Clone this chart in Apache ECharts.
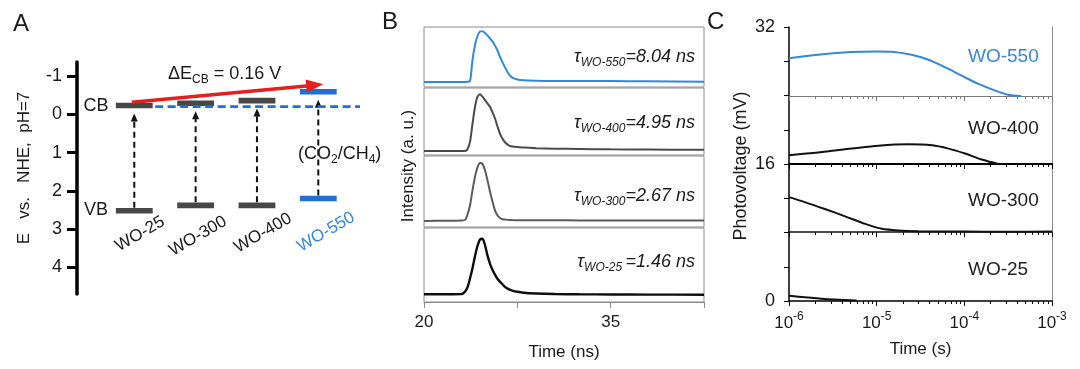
<!DOCTYPE html>
<html><head><meta charset="utf-8">
<script src="https://cdn.jsdelivr.net/npm/echarts@6/dist/echarts.min.js"></script>
<style>html,body{margin:0;padding:0;background:#fff}#c{width:1080px;height:369px}</style>
</head><body><div id="c"></div>
<script>
// ---------------- Panel A: band positions (V vs. NHE) ----------------
const samples = ['WO-25', 'WO-300', 'WO-400', 'WO-550'];
const cbLevels = [-0.23, -0.29, -0.36, -0.59];
const vbLevels = [2.52, 2.38, 2.38, 2.20];
const co2ch4Level = -0.20;
const energyTicks = [-1, 0, 1, 2, 3, 4];
const deltaArrowFrom = [0.96, -0.315];
const deltaArrowTo = [4.08, -0.785];

// ---------------- Panel B: TRPL decay (normalised, stacked) ----------------
const bTime = [20, 22, 23, 23.3, 23.5, 23.7, 23.9, 24.1, 24.3, 24.5, 24.7, 24.9, 25.1, 25.3, 25.5, 25.7, 25.9, 26.1, 26.3, 26.5, 26.8, 27.1, 27.5, 28, 29, 30.5, 32.5, 35, 38, 42.5];
const bWO550 = [0.085, 0.085, 0.085, 0.085, 0.087, 0.10, 0.45, 0.70, 0.85, 0.925, 0.93, 0.90, 0.86, 0.81, 0.76, 0.69, 0.61, 0.505, 0.415, 0.33, 0.22, 0.155, 0.125, 0.113, 0.106, 0.10, 0.10, 0.098, 0.095, 0.088];
const bWO400 = [0.06, 0.06, 0.06, 0.06, 0.09, 0.20, 0.47, 0.72, 0.87, 0.905, 0.87, 0.82, 0.77, 0.72, 0.64, 0.548, 0.43, 0.32, 0.245, 0.19, 0.145, 0.128, 0.118, 0.112, 0.102, 0.095, 0.09, 0.085, 0.082, 0.078];
const bWO300 = [0.085, 0.088, 0.092, 0.10, 0.18, 0.306, 0.52, 0.71, 0.84, 0.90, 0.89, 0.80, 0.66, 0.50, 0.36, 0.235, 0.165, 0.127, 0.11, 0.104, 0.10, 0.097, 0.095, 0.094, 0.094, 0.094, 0.093, 0.093, 0.093, 0.093];
const bWO25 = [0.104, 0.104, 0.106, 0.14, 0.20, 0.32, 0.46, 0.62, 0.76, 0.845, 0.855, 0.77, 0.63, 0.52, 0.435, 0.37, 0.315, 0.275, 0.24, 0.205, 0.175, 0.155, 0.138, 0.125, 0.115, 0.108, 0.104, 0.102, 0.10, 0.098];
const bLabelledTicks = [20, 35];
const bLifetimes = ['8.04', '4.95', '2.67', '1.46'];
const bSubscripts = ['WO-550', 'WO-400', 'WO-300', 'WO-25 '];

// ---------------- Panel C: surface photovoltage transients ----------------
const cTime550 = [1e-6, 2.15e-6, 5.1e-6, 1e-5, 1.48e-5, 2.5e-5, 3.9e-5, 6.0e-5, 9.3e-5, 1.45e-4, 2.25e-4, 3.15e-4, 4.45e-4];
const cPV550 = [28.39, 28.78, 29.09, 29.17, 29.13, 28.78, 28.2, 27.34, 26.37, 25.4, 24.62, 24.15, 24.0];
const cTime400 = [1e-6, 2.16e-6, 5.2e-6, 1.05e-5, 2.3e-5, 4.3e-5, 6.6e-5, 1.02e-4, 1.58e-4, 2.45e-4];
const cPV400 = [17.04, 17.35, 17.81, 18.16, 18.32, 18.2, 17.81, 17.23, 16.53, 16.0];
const cTime300 = [1e-6, 1.51e-6, 2.57e-6, 4.37e-6, 7.4e-6, 1.15e-5, 1.78e-5, 3.0e-5, 1e-4, 3e-4, 1e-3];
const cPV300 = [12.1, 11.52, 10.7, 9.84, 8.95, 8.37, 8.17, 8.09, 8.05, 8.04, 8.05];
const cTime25 = [1e-6, 1.51e-6, 2.57e-6, 4.37e-6, 5.9e-6];
const cPV25 = [0.62, 0.43, 0.23, 0.12, 0.06];
const cLabelledTicks = [0, 16, 32];
const cBands = [[24, 32], [16, 24], [8, 16], [0, 8]];

// ---------------- styling ----------------
const FONT = '"Liberation Sans", Arial, Helvetica, sans-serif';
const BLUE = '#1f6fd6';
const BLUE_LINE = '#3388d8';
const BLUE_TXT = '#3b86d4';
const GRAY_BAR = '#474747';
const FRAME = '#8a8a8a';
const TXT = '#1a1a1a';
const A_TICK = '#000000';

const zip = (a, b) => a.map((v, i) => [v, b[i]]);

const chart = echarts.init(document.getElementById('c'), null, {renderer: 'canvas'});

const grid = [];
const xAxis = [];
const yAxis = [];
const series = [];

// ---- Panel A ----
const A_XMIN = 0.066, A_XMAX = 4.68;
grid.push({left: 77, top: 62, width: 283, height: 232});
xAxis.push({type: 'value', gridIndex: 0, min: A_XMIN, max: A_XMAX, show: false});
yAxis.push({
  type: 'value', gridIndex: 0, inverse: true, min: -1.37, max: 4.7,
  axisLine: {show: true, lineStyle: {color: '#000', width: 3.5}},
  axisTick: {show: true, customValues: energyTicks, length: 10, lineStyle: {color: A_TICK, width: 3}},
  axisLabel: {show: true, customValues: energyTicks, margin: 15, fontSize: 18, color: TXT, fontFamily: FONT},
  splitLine: {show: false}
});

series.push({
  type: 'custom', xAxisIndex: 0, yAxisIndex: 0, clip: false, z: 3,
  data: samples.map((s, i) => [i + 1, cbLevels[i], i]).concat(samples.map((s, i) => [i + 1, vbLevels[i], i])),
  encode: {x: 0, y: 1},
  renderItem: (params, api) => {
    const x = api.value(0), y = api.value(1), idx = api.value(2);
    const a = api.coord([x - 0.3, y]), b = api.coord([x + 0.3, y]);
    return {type: 'rect', shape: {x: a[0], y: a[1] - 2.8, width: b[0] - a[0], height: 5.6},
      style: {fill: idx === 3 ? BLUE : GRAY_BAR}};
  }
});
series.push({
  type: 'custom', xAxisIndex: 0, yAxisIndex: 0, clip: false, z: 4,
  data: samples.map((s, i) => [i + 1, vbLevels[i], cbLevels[i]]),
  encode: {x: 0, y: 1},
  renderItem: (params, api) => {
    const x = api.value(0);
    const pb = api.coord([x, api.value(1)]), pt = api.coord([x, api.value(2)]);
    const y0 = pb[1] - 3, tip = pt[1] + 8, hl = 8, hw = 3.5;
    return {type: 'group', children: [
      {type: 'line', shape: {x1: pb[0], y1: y0, x2: pb[0], y2: tip + hl - 1},
        style: {stroke: '#111', lineWidth: 2, lineDash: [6, 4]}},
      {type: 'polygon', shape: {points: [[pt[0], tip], [pt[0] - hw, tip + hl], [pt[0] + hw, tip + hl]]},
        style: {fill: '#111'}}
    ]};
  }
});
series.push({
  type: 'line', xAxisIndex: 0, yAxisIndex: 0, symbol: 'none', z: 5, silent: true,
  data: [[1.34, co2ch4Level], [A_XMAX, co2ch4Level]],
  lineStyle: {color: BLUE, width: 2.8, type: [8, 4.5]}
});
series.push({
  type: 'custom', xAxisIndex: 0, yAxisIndex: 0, clip: false, z: 6,
  data: [[deltaArrowFrom[0], deltaArrowFrom[1], deltaArrowTo[0], deltaArrowTo[1]]],
  renderItem: (params, api) => {
    const p1 = api.coord([api.value(0), api.value(1)]), p2 = api.coord([api.value(2), api.value(3)]);
    const dx = p2[0] - p1[0], dy = p2[1] - p1[1], L = Math.hypot(dx, dy);
    const ux = dx / L, uy = dy / L, nx = -uy, ny = ux, hl = 17, hw = 6.5;
    const bx = p2[0] - ux * hl, by = p2[1] - uy * hl;
    return {type: 'group', children: [
      {type: 'line', shape: {x1: p1[0], y1: p1[1], x2: bx + ux * 3, y2: by + uy * 3}, style: {stroke: '#e3201e', lineWidth: 3.6}},
      {type: 'polygon', shape: {points: [[p2[0], p2[1]], [bx + nx * hw, by + ny * hw], [bx - nx * hw, by - ny * hw]]}, style: {fill: '#e3201e'}}
    ]};
  }
});

// ---- Panel B ----
const bBoxes = [[27, 60], [88, 67], [156, 71], [228, 74]];
const bData = [bWO550, bWO400, bWO300, bWO25];
const bColors = [BLUE_LINE, '#4a4a4a', '#5a5a5a', '#0d0d0d'];
const bWidths = [2, 2, 2, 2.4];
bBoxes.forEach((bx, k) => {
  const gi = grid.length;
  grid.push({left: 424, width: 280, top: bx[0], height: bx[1], show: true, borderColor: FRAME, borderWidth: 1, backgroundColor: 'transparent'});
  const last = k === 3;
  xAxis.push({
    type: 'value', gridIndex: gi, min: 20, max: 42.5, interval: 7.5, show: last,
    axisLine: {show: true, lineStyle: {color: FRAME, width: 1}},
    axisTick: {show: true, inside: false, length: 6, lineStyle: {color: FRAME}},
    axisLabel: {show: true, margin: 12, fontSize: 17, color: TXT, fontFamily: FONT,
      formatter: v => bLabelledTicks.includes(v) ? String(v) : ''},
    splitLine: {show: false},
    name: last ? 'Time (ns)' : '', nameLocation: 'middle', nameGap: 42,
    nameTextStyle: {fontSize: 17, color: TXT, fontFamily: FONT}
  });
  yAxis.push({type: 'value', gridIndex: gi, min: 0, max: 1, show: false});
  series.push({
    type: 'line', xAxisIndex: gi, yAxisIndex: gi, symbol: 'none', smooth: 0.25,
    data: zip(bTime, bData[k]), lineStyle: {color: bColors[k], width: bWidths[k]}
  });
});

// ---- Panel C ----
const cBoxes = [[27, 69], [96, 68], [164, 68], [232, 69]];
const cData = [zip(cTime550, cPV550), zip(cTime400, cPV400), zip(cTime300, cPV300), zip(cTime25, cPV25)];
const cColors = [BLUE_LINE, '#111', '#111', '#111'];
const cAxisLine = [{color: '#7a7a7a', width: 1}, {color: '#000', width: 2}, {color: '#111', width: 1.5}, {color: '#000', width: 1.5}];
cBoxes.forEach((bx, k) => {
  const gi = grid.length;
  grid.push({left: 789, width: 263, top: bx[0], height: bx[1]});
  const last = k === 3;
  xAxis.push({
    type: 'log', logBase: 10, gridIndex: gi, min: 1e-6, max: 1e-3,
    axisLine: {show: true, lineStyle: cAxisLine[k]},
    axisTick: {show: true, inside: false, length: 5, lineStyle: {color: cAxisLine[k].color, width: 1}},
    minorTick: {show: true, splitNumber: 9, length: 3, lineStyle: {color: cAxisLine[k].color, width: 1}},
    axisLabel: {show: last, margin: 10, color: TXT, fontFamily: FONT,
      formatter: v => '{b|10}{s|' + Math.round(Math.log10(v)) + '}',
      rich: {b: {fontSize: 17, lineHeight: 24, color: TXT, fontFamily: FONT},
             s: {fontSize: 12, lineHeight: 12, verticalAlign: 'top', color: TXT, fontFamily: FONT}}},
    splitLine: {show: false},
    name: last ? 'Time (s)' : '', nameLocation: 'middle', nameGap: 40,
    nameTextStyle: {fontSize: 17, color: TXT, fontFamily: FONT}
  });
  yAxis.push({type: 'value', gridIndex: gi, min: cBands[k][0], max: cBands[k][1], show: false});
  series.push({
    type: 'line', xAxisIndex: gi, yAxisIndex: gi, symbol: 'none', smooth: 0.3,
    data: cData[k], lineStyle: {color: cColors[k], width: 2}
  });
});
// frame for panel C (left photovoltage axis + right border)
const fgi = grid.length;
grid.push({left: 789, width: 263, top: 27, height: 274});
xAxis.push({type: 'value', gridIndex: fgi, min: 0, max: 1, show: false});
yAxis.push({
  type: 'value', gridIndex: fgi, min: 0, max: 32, interval: 4, position: 'left',
  axisLine: {show: true, lineStyle: {color: '#000', width: 1.5}},
  axisTick: {show: true, inside: false, length: 5, lineStyle: {color: '#000', width: 1}},
  axisLabel: {show: true, margin: 14, fontSize: 18, color: TXT, fontFamily: FONT,
    formatter: v => cLabelledTicks.includes(v) ? String(v) : ''},
  splitLine: {show: false}
});
yAxis.push({
  type: 'value', gridIndex: fgi, min: 0, max: 32, position: 'right',
  axisLine: {show: true, lineStyle: {color: FRAME, width: 1}},
  axisTick: {show: false}, axisLabel: {show: false}, splitLine: {show: false}
});
series.push({type: 'line', xAxisIndex: fgi, yAxisIndex: yAxis.length - 2, data: [], symbol: 'none'});

// ---------------- text annotations ----------------
const txt = (text, x, y, o = {}) => ({
  type: 'text', x, y, rotation: o.rot || 0, z: 100,
  style: Object.assign({text, fill: o.color || TXT, fontSize: o.size || 17, fontFamily: FONT,
    align: o.align || 'center', verticalAlign: 'middle', fontStyle: o.italic ? 'italic' : 'normal'}, o.rich ? {rich: o.rich} : {})
});
const subRich = (size, color, italic) => ({
  n: {fontSize: size, lineHeight: size + 6, color, fontFamily: FONT, fontStyle: italic ? 'italic' : 'normal'},
  s: {fontSize: Math.round(size * 0.68), lineHeight: Math.round(size * 0.68), verticalAlign: 'bottom', color, fontFamily: FONT, fontStyle: italic ? 'italic' : 'normal'}
});
const catCenters = [[140, 234], [198, 236], [263, 233], [326, 232]];
const graphic = [
  txt('A', 13, 24, {size: 24, align: 'left'}),
  txt('B', 382, 22, {size: 24, align: 'left'}),
  txt('C', 707, 22, {size: 24, align: 'left'}),
  txt('E   vs.   NHE,  pH=7', 24, 168, {rot: Math.PI / 2, size: 17}),
  txt('CB', 96, 106, {size: 18}),
  txt('VB', 96, 210, {size: 18}),
  txt('{n|ΔE}{s|CB}{n| = 0.16 V}', 168, 74, {align: 'left', rich: subRich(18, TXT, false)}),
  txt('{n|(CO}{s|2}{n|/CH}{s|4}{n|)}', 298, 154, {align: 'left', rich: subRich(18, TXT, false)}),
  txt('Intensity (a. u.)', 408, 166, {rot: Math.PI / 2, size: 17}),
  txt('Photovoltage (mV)', 741, 166, {rot: Math.PI / 2, size: 18})
];
samples.forEach((s, i) => graphic.push(txt(s, catCenters[i][0], catCenters[i][1],
  {rot: Math.PI / 6, size: 17, color: i === 3 ? BLUE_TXT : TXT})));
const bLabelY = [57, 123, 196, 262];
bLifetimes.forEach((v, k) => graphic.push(txt('{n|τ}{s|' + bSubscripts[k] + '}{n|=' + v + ' ns}', 695, bLabelY[k],
  {align: 'right', rich: subRich(18, k === 0 ? BLUE_TXT : '#222', true)})));
const cLabelY = [57, 129, 201, 270];
samples.slice().reverse().forEach((s, k) => graphic.push(txt(s, 968, cLabelY[k],
  {align: 'left', size: 19, color: k === 0 ? BLUE_TXT : '#222'})));

chart.setOption({
  animation: false,
  backgroundColor: '#fff',
  textStyle: {fontFamily: FONT},
  grid, xAxis, yAxis, series, graphic
});
</script></body></html>
